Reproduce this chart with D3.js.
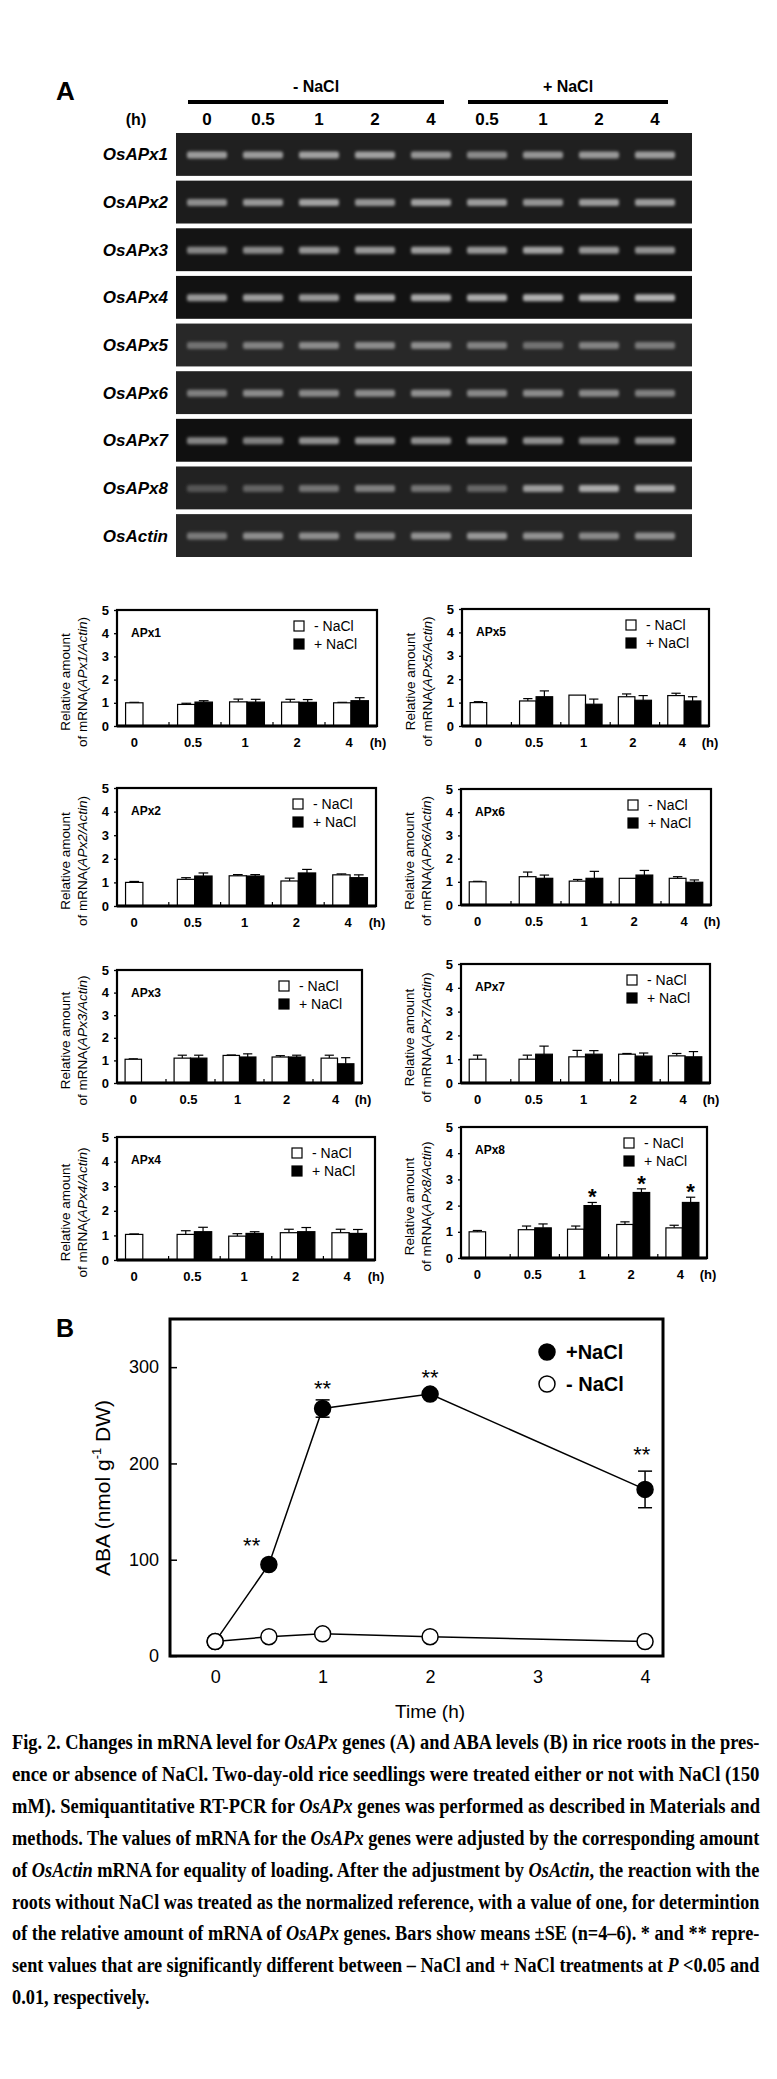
<!DOCTYPE html>
<html lang="en">
<head>
<meta charset="UTF-8">
<title>OsAPx mRNA and ABA levels in rice roots under NaCl</title>
<script src="https://d3js.org/d3.v7.min.js"></script>
<style>
  body { margin: 0; background: #fff; }
  svg { display: block; font-family: "Liberation Sans", Arial, sans-serif; }
  .caption { font-family: "Liberation Serif", "Times New Roman", serif; font-weight: bold; font-size: 20px; }
</style>
</head>
<body>
<svg width="777" height="2079"></svg>
<script>
// ---- Panel A, gel ----
const gelGenes = ["OsAPx1", "OsAPx2", "OsAPx3", "OsAPx4", "OsAPx5", "OsAPx6", "OsAPx7", "OsAPx8", "OsActin"];
const gelLanes = ["0", "0.5", "1", "2", "4", "0.5", "1", "2", "4"];
const gelGroups = [{ name: "- NaCl", first: 0, last: 4 }, { name: "+ NaCl", first: 5, last: 8 }];
const gelBackground = [32, 28, 20, 18, 40, 34, 16, 34, 38];   // grey level of each gel strip
const bandIntensity = [
  [0.72, 0.72, 0.75, 0.75, 0.68, 0.62, 0.68, 0.70, 0.72],
  [0.65, 0.70, 0.75, 0.68, 0.75, 0.72, 0.68, 0.72, 0.72],
  [0.62, 0.65, 0.70, 0.72, 0.75, 0.72, 0.78, 0.70, 0.68],
  [0.72, 0.75, 0.72, 0.80, 0.80, 0.82, 0.85, 0.85, 0.85],
  [0.45, 0.55, 0.60, 0.60, 0.62, 0.55, 0.45, 0.55, 0.50],
  [0.55, 0.62, 0.60, 0.62, 0.65, 0.60, 0.62, 0.60, 0.55],
  [0.62, 0.60, 0.68, 0.70, 0.68, 0.70, 0.68, 0.62, 0.65],
  [0.30, 0.38, 0.48, 0.55, 0.48, 0.40, 0.72, 0.80, 0.78],
  [0.50, 0.62, 0.62, 0.60, 0.65, 0.68, 0.65, 0.60, 0.62]
];

// ---- Panel A, bar charts ----
const timeCats = ["0", "0.5", "1", "2", "4"];
const apxNames = ["APx1", "APx2", "APx3", "APx4", "APx5", "APx6", "APx7", "APx8"];
const minusNaCl = [
  [1.00, 0.93, 1.04, 1.03, 1.00],
  [1.00, 1.13, 1.28, 1.06, 1.32],
  [1.05, 1.10, 1.22, 1.15, 1.10],
  [1.04, 1.04, 0.97, 1.11, 1.11],
  [1.00, 1.07, 1.32, 1.25, 1.30],
  [1.00, 1.22, 1.03, 1.15, 1.15],
  [1.00, 1.00, 1.10, 1.21, 1.14],
  [1.00, 1.08, 1.10, 1.28, 1.15]
];
const minusErr = [
  [0.02, 0.05, 0.12, 0.12, 0.02],
  [0.04, 0.07, 0.05, 0.12, 0.04],
  [0.02, 0.13, 0.02, 0.06, 0.13],
  [0.02, 0.15, 0.10, 0.14, 0.14],
  [0.04, 0.10, 0.00, 0.12, 0.10],
  [0.02, 0.20, 0.07, 0.00, 0.07],
  [0.17, 0.17, 0.27, 0.03, 0.10],
  [0.05, 0.14, 0.12, 0.10, 0.10]
];
const plusNaCl = [
  [null, 1.03, 1.03, 1.02, 1.09],
  [null, 1.27, 1.27, 1.40, 1.20],
  [null, 1.10, 1.15, 1.15, 0.85],
  [null, 1.15, 1.08, 1.15, 1.08],
  [null, 1.25, 0.93, 1.10, 1.07],
  [null, 1.15, 1.15, 1.29, 0.98],
  [null, 1.21, 1.21, 1.13, 1.10],
  [null, 1.15, 2.00, 2.50, 2.12]
];
const plusErr = [
  [null, 0.06, 0.12, 0.12, 0.13],
  [null, 0.13, 0.06, 0.15, 0.12],
  [null, 0.13, 0.14, 0.08, 0.27],
  [null, 0.18, 0.07, 0.17, 0.16],
  [null, 0.25, 0.22, 0.20, 0.18],
  [null, 0.14, 0.30, 0.20, 0.10],
  [null, 0.34, 0.15, 0.13, 0.22],
  [null, 0.15, 0.12, 0.14, 0.20]
];
const plusSignificant = [[], [], [], [], [], [], [], ["1", "2", "4"]];
const barTicks = [0, 1, 2, 3, 4, 5];

// ---- Panel B ----
const abaTimes = [0, 0.5, 1, 2, 4];
const abaPlus = [15, 95, 257, 272, 173];
const abaPlusErr = [2, 3, 9, 3, 19];
const abaMinus = [15, 20, 23, 20, 15];
const abaMinusErr = [2, 2, 2, 2, 2];
const abaStars = [[0.34, 119], [1, 282], [2, 294], [3.97, 214]];   // "**" anchors (time, ABA)
const abaTicks = [0, 100, 200, 300];
const abaTimeTicks = [0, 1, 2, 3, 4];

// ---- caption ----
const captionLines = [
  [["Fig. 2. Changes in mRNA level for "], ["OsAPx", 1], [" genes (A) and ABA levels (B) in rice roots in the pres-"]],
  [["ence or absence of NaCl. Two-day-old rice seedlings were treated either or not with NaCl (150"]],
  [["mM). Semiquantitative RT-PCR for "], ["OsAPx", 1], [" genes was performed as described in Materials and"]],
  [["methods. The values of mRNA for the "], ["OsAPx", 1], [" genes were adjusted by the corresponding amount"]],
  [["of "], ["OsActin", 1], [" mRNA for equality of loading. After the adjustment by "], ["OsActin", 1], [", the reaction with the"]],
  [["roots without NaCl was treated as the normalized reference, with a value of one, for determintion"]],
  [["of the relative amount of mRNA of "], ["OsAPx", 1], [" genes. Bars show means \u00b1SE (n=4\u20136). * and ** repre-"]],
  [["sent values that are significantly different between \u2013 NaCl and + NaCl treatments at "], ["P", 1], [" <0.05 and"]],
  [["0.01, respectively."]]
];

const svg = d3.select("svg");
svg.append("rect").attr("width", 777).attr("height", 2079).attr("fill", "#fff");

const defs = svg.append("defs");
defs.append("filter").attr("id", "blur")
  .attr("x", "-30%").attr("y", "-150%").attr("width", "160%").attr("height", "400%")
  .append("feGaussianBlur").attr("stdDeviation", "1.8 1.4");

// ================= Panel A gel =================
svg.append("text").attr("x", 56).attr("y", 100)
  .attr("font-size", 26).attr("font-weight", "bold").text("A");

const gelX0 = 176, gelX1 = 692;
const row = d3.scaleBand().domain(gelGenes).range([133, 557]).paddingInner(0.1);
const lane = d3.scalePoint().domain(d3.range(gelLanes.length)).range([207, 655]);

gelGroups.forEach(gr => {
  const xa = lane(gr.first) - 19, xb = lane(gr.last) + 13;
  svg.append("line").attr("x1", xa).attr("x2", xb).attr("y1", 102).attr("y2", 102)
    .attr("stroke", "#000").attr("stroke-width", 4);
  svg.append("text").attr("x", (xa + xb) / 2).attr("y", 92)
    .attr("text-anchor", "middle").attr("font-size", 16).attr("font-weight", "bold").text(gr.name);
});

svg.append("text").attr("x", 136).attr("y", 125).attr("text-anchor", "middle")
  .attr("font-size", 16).attr("font-weight", "bold").text("(h)");
svg.selectAll(".lane-label").data(gelLanes).join("text")
  .attr("x", (d, i) => lane(i)).attr("y", 125).attr("text-anchor", "middle")
  .attr("font-size", 17).attr("font-weight", "bold").text(d => d);

gelGenes.forEach((gene, r) => {
  const y0 = row(gene), h = row.bandwidth();
  const bg = gelBackground[r];
  svg.append("rect").attr("x", gelX0).attr("y", y0).attr("width", gelX1 - gelX0).attr("height", h)
    .attr("fill", d3.rgb(bg, bg, bg));
  svg.append("text").attr("x", 168).attr("y", y0 + h / 2 + 6).attr("text-anchor", "end")
    .attr("font-size", 17).attr("font-weight", "bold").attr("font-style", "italic").text(gene);
  svg.append("g").attr("filter", "url(#blur)")
    .selectAll("rect").data(bandIntensity[r]).join("rect")
    .attr("x", (d, i) => lane(i) - 20).attr("y", y0 + h / 2 - 3)
    .attr("width", 40).attr("height", 7).attr("rx", 2)
    .attr("fill", d => { const v = Math.round(bg + (205 - bg) * d); return d3.rgb(v, v, v); });
});

// ================= Panel A bar charts =================
const chartBoxes = [
  { l: 117, r: 377, t: 610, b: 726 },
  { l: 117, r: 376, t: 788, b: 906 },
  { l: 117, r: 362, t: 970, b: 1083 },
  { l: 117, r: 375, t: 1137, b: 1260 },
  { l: 462, r: 709, t: 609, b: 726 },
  { l: 461, r: 711, t: 789, b: 905 },
  { l: 461, r: 710, t: 964, b: 1083 },
  { l: 461, r: 707, t: 1127, b: 1258 }
];

function barChart(k) {
  const box = chartBoxes[k];
  const name = apxNames[k];
  const g = svg.append("g");
  const x = d3.scaleBand().domain(timeCats).range([box.l, box.r]);
  const y = d3.scaleLinear().domain([0, 5]).range([box.b, box.t]);
  const bw = x.bandwidth() * 0.335;
  const cx = c => x(c) + x.bandwidth() / 2;

  // y axis
  g.append("g").attr("transform", `translate(${box.l},0)`)
    .call(d3.axisLeft(y).tickValues(barTicks).tickSize(3).tickPadding(5).tickFormat(d3.format("d")))
    .call(a => a.select(".domain").remove())
    .call(a => a.selectAll("text").attr("font-size", 13).attr("font-weight", "bold")
      .attr("font-family", "Liberation Sans, Arial, sans-serif").attr("fill", "#000"))
    .call(a => a.selectAll("line").attr("stroke", "#000").attr("stroke-width", 1.3));

  // y title
  const midY = (box.t + box.b) / 2 + 14;
  g.append("text").attr("transform", `translate(${box.l - 47},${midY}) rotate(-90)`)
    .attr("text-anchor", "middle").attr("font-size", 13.5).text("Relative amount");
  const t2 = g.append("text").attr("transform", `translate(${box.l - 30},${midY}) rotate(-90)`)
    .attr("text-anchor", "middle").attr("font-size", 13.5);
  t2.append("tspan").text("of mRNA(");
  t2.append("tspan").attr("font-style", "italic").text(name + "/Actin");
  t2.append("tspan").text(")");

  // bars: - NaCl (white, left half) and + NaCl (black, right half)
  const rows = timeCats.map((c, i) => ({
    c, m: minusNaCl[k][i], me: minusErr[k][i], p: plusNaCl[k][i], pe: plusErr[k][i]
  }));

  const errBar = (xc, v, e) => {
    if (!e) return;
    g.append("line").attr("x1", xc).attr("x2", xc).attr("y1", y(v)).attr("y2", y(v + e))
      .attr("stroke", "#000").attr("stroke-width", 1.2);
    g.append("line").attr("x1", xc - bw * 0.28).attr("x2", xc + bw * 0.28)
      .attr("y1", y(v + e)).attr("y2", y(v + e)).attr("stroke", "#000").attr("stroke-width", 1.2);
  };

  rows.forEach(d => {
    errBar(cx(d.c) - bw / 2, d.m, d.me);
    if (d.p != null) errBar(cx(d.c) + bw / 2, d.p, d.pe);
  });

  g.selectAll(".wbar").data(rows).join("rect")
    .attr("x", d => cx(d.c) - bw).attr("y", d => y(d.m))
    .attr("width", bw).attr("height", d => y(0) - y(d.m))
    .attr("fill", "#fff").attr("stroke", "#000").attr("stroke-width", 1.2);
  g.selectAll(".bbar").data(rows.filter(d => d.p != null)).join("rect")
    .attr("x", d => cx(d.c)).attr("y", d => y(d.p))
    .attr("width", bw).attr("height", d => y(0) - y(d.p))
    .attr("fill", "#000").attr("stroke", "#000").attr("stroke-width", 1.2);

  // significance stars
  g.selectAll(".star").data(rows.filter(d => plusSignificant[k].includes(d.c))).join("text")
    .attr("x", d => cx(d.c) + bw / 2).attr("y", d => y(d.p + d.pe) + 2)
    .attr("text-anchor", "middle").attr("font-size", 22).attr("font-weight", "bold").text("*");

  // frame
  g.append("rect").attr("x", box.l).attr("y", box.t).attr("width", box.r - box.l).attr("height", box.b - box.t)
    .attr("fill", "none").attr("stroke", "#000").attr("stroke-width", 2.2);
  g.append("line").attr("x1", box.l).attr("x2", box.r).attr("y1", box.b).attr("y2", box.b)
    .attr("stroke", "#000").attr("stroke-width", 3);
  // category separators on the bottom axis
  g.selectAll(".sep").data(timeCats.slice(1)).join("line")
    .attr("x1", d => x(d)).attr("x2", d => x(d)).attr("y1", box.b).attr("y2", box.b - 4)
    .attr("stroke", "#000").attr("stroke-width", 1.2);

  // x labels
  g.selectAll(".xl").data(rows).join("text")
    .attr("x", (d, i) => d.p == null ? cx(d.c) - bw / 2 : cx(d.c) - 2)
    .attr("y", box.b + 21).attr("text-anchor", "middle")
    .attr("font-size", 13).attr("font-weight", "bold").text(d => d.c);
  g.append("text").attr("x", box.r + 1).attr("y", box.b + 21).attr("text-anchor", "middle")
    .attr("font-size", 13).attr("font-weight", "bold").text("(h)");

  // gene label
  g.append("text").attr("x", box.l + 14).attr("y", box.t + 27)
    .attr("font-size", 12).attr("font-weight", "bold").text(name);

  // legend
  const lx = box.r - 83;
  [["- NaCl", "#fff", 11], ["+ NaCl", "#000", 29]].forEach(([lab, fill, dy]) => {
    g.append("rect").attr("x", lx).attr("y", box.t + dy).attr("width", 10).attr("height", 10)
      .attr("fill", fill).attr("stroke", "#000").attr("stroke-width", 1.2);
    g.append("text").attr("x", lx + 20).attr("y", box.t + dy + 10)
      .attr("font-size", 14).text(lab);
  });
}

apxNames.forEach((n, k) => barChart(k));

// ================= Panel B =================
svg.append("text").attr("x", 56).attr("y", 1337)
  .attr("font-size", 25).attr("font-weight", "bold").text("B");

const bBox = { l: 170, r: 663, t: 1319, b: 1656 };
const bx = d3.scaleLinear().domain([-0.42, 4.167]).range([bBox.l, bBox.r]);
const by = d3.scaleLinear().domain([0, 350]).range([bBox.b, bBox.t]);
const gB = svg.append("g");

gB.append("g").attr("transform", `translate(${bBox.l},0)`)
  .call(d3.axisLeft(by).tickValues(abaTicks).tickSize(-7).tickPadding(11))
  .call(a => a.select(".domain").remove())
  .call(a => a.selectAll("text").attr("font-size", 18).attr("fill", "#000")
    .attr("font-family", "Liberation Sans, Arial, sans-serif"))
  .call(a => a.selectAll("line").attr("stroke", "#000").attr("stroke-width", 1.5));

gB.append("g").attr("transform", `translate(0,${bBox.b})`)
  .call(d3.axisBottom(bx).tickValues(abaTimeTicks).tickSize(0).tickPadding(14).tickFormat(d3.format("d")))
  .call(a => a.select(".domain").remove())
  .call(a => a.selectAll("text").attr("font-size", 18).attr("fill", "#000")
    .attr("font-family", "Liberation Sans, Arial, sans-serif"));

gB.append("rect").attr("x", bBox.l).attr("y", bBox.t).attr("width", bBox.r - bBox.l).attr("height", bBox.b - bBox.t)
  .attr("fill", "none").attr("stroke", "#000").attr("stroke-width", 3);

const yt = gB.append("text").attr("transform", `translate(110,1488) rotate(-90)`)
  .attr("text-anchor", "middle").attr("font-size", 21);
yt.append("tspan").text("ABA (nmol g");
yt.append("tspan").attr("font-size", 13).attr("dy", -9).text("-1");
yt.append("tspan").attr("dy", 9).text(" DW)");

gB.append("text").attr("x", (bx(0) + bx(4)) / 2).attr("y", 1718).attr("text-anchor", "middle")
  .attr("font-size", 19).text("Time  (h)");

const line = d3.line().x(d => bx(d[0])).y(d => by(d[1]));
const plusPts = abaTimes.map((t, i) => [t, abaPlus[i], abaPlusErr[i]]);
const minusPts = abaTimes.map((t, i) => [t, abaMinus[i], abaMinusErr[i]]);

function drawSeries(pts, fill) {
  gB.append("path").datum(pts).attr("d", line).attr("fill", "none")
    .attr("stroke", "#000").attr("stroke-width", 1.5);
  pts.forEach(p => {
    const xc = bx(p[0]);
    gB.append("line").attr("x1", xc).attr("x2", xc).attr("y1", by(p[1] - p[2])).attr("y2", by(p[1] + p[2]))
      .attr("stroke", "#000").attr("stroke-width", 1.5);
    [p[1] - p[2], p[1] + p[2]].forEach(v => gB.append("line")
      .attr("x1", xc - 7).attr("x2", xc + 7).attr("y1", by(v)).attr("y2", by(v))
      .attr("stroke", "#000").attr("stroke-width", 1.5));
  });
  gB.selectAll(null).data(pts).join("circle")
    .attr("cx", d => bx(d[0])).attr("cy", d => by(d[1])).attr("r", 8)
    .attr("fill", fill).attr("stroke", "#000").attr("stroke-width", 1.5);
}
drawSeries(plusPts, "#000");
drawSeries(minusPts, "#fff");

gB.selectAll(".bstar").data(abaStars).join("text")
  .attr("x", d => bx(d[0])).attr("y", d => by(d[1]) + 12).attr("text-anchor", "middle")
  .attr("font-size", 22).text("**");

[["+NaCl", "#000", 1352], ["- NaCl", "#fff", 1384]].forEach(([lab, fill, yy]) => {
  gB.append("circle").attr("cx", 547).attr("cy", yy).attr("r", 8)
    .attr("fill", fill).attr("stroke", "#000").attr("stroke-width", 1.5);
  gB.append("text").attr("x", 566).attr("y", yy + 7)
    .attr("font-size", 20).attr("font-weight", "bold").text(lab);
});

// ================= Caption =================
const capLeft = 12, capRight = 760, capTop = 1749, capStep = 31.9;
let scales = [];
captionLines.forEach((parts, i) => {
  const t = svg.append("text").attr("class", "caption");
  parts.forEach(([s, it]) => {
    const sp = t.append("tspan").text(s);
    if (it) sp.attr("font-style", "italic");
  });
  const natural = t.node().getComputedTextLength();
  const last = i === captionLines.length - 1;
  const sx = last ? d3.mean(scales) : (capRight - capLeft) / natural;
  if (!last) scales.push(sx);
  t.attr("transform", `translate(${capLeft},${capTop + i * capStep}) scale(${sx},1)`);
});
</script>
</body>
</html>
